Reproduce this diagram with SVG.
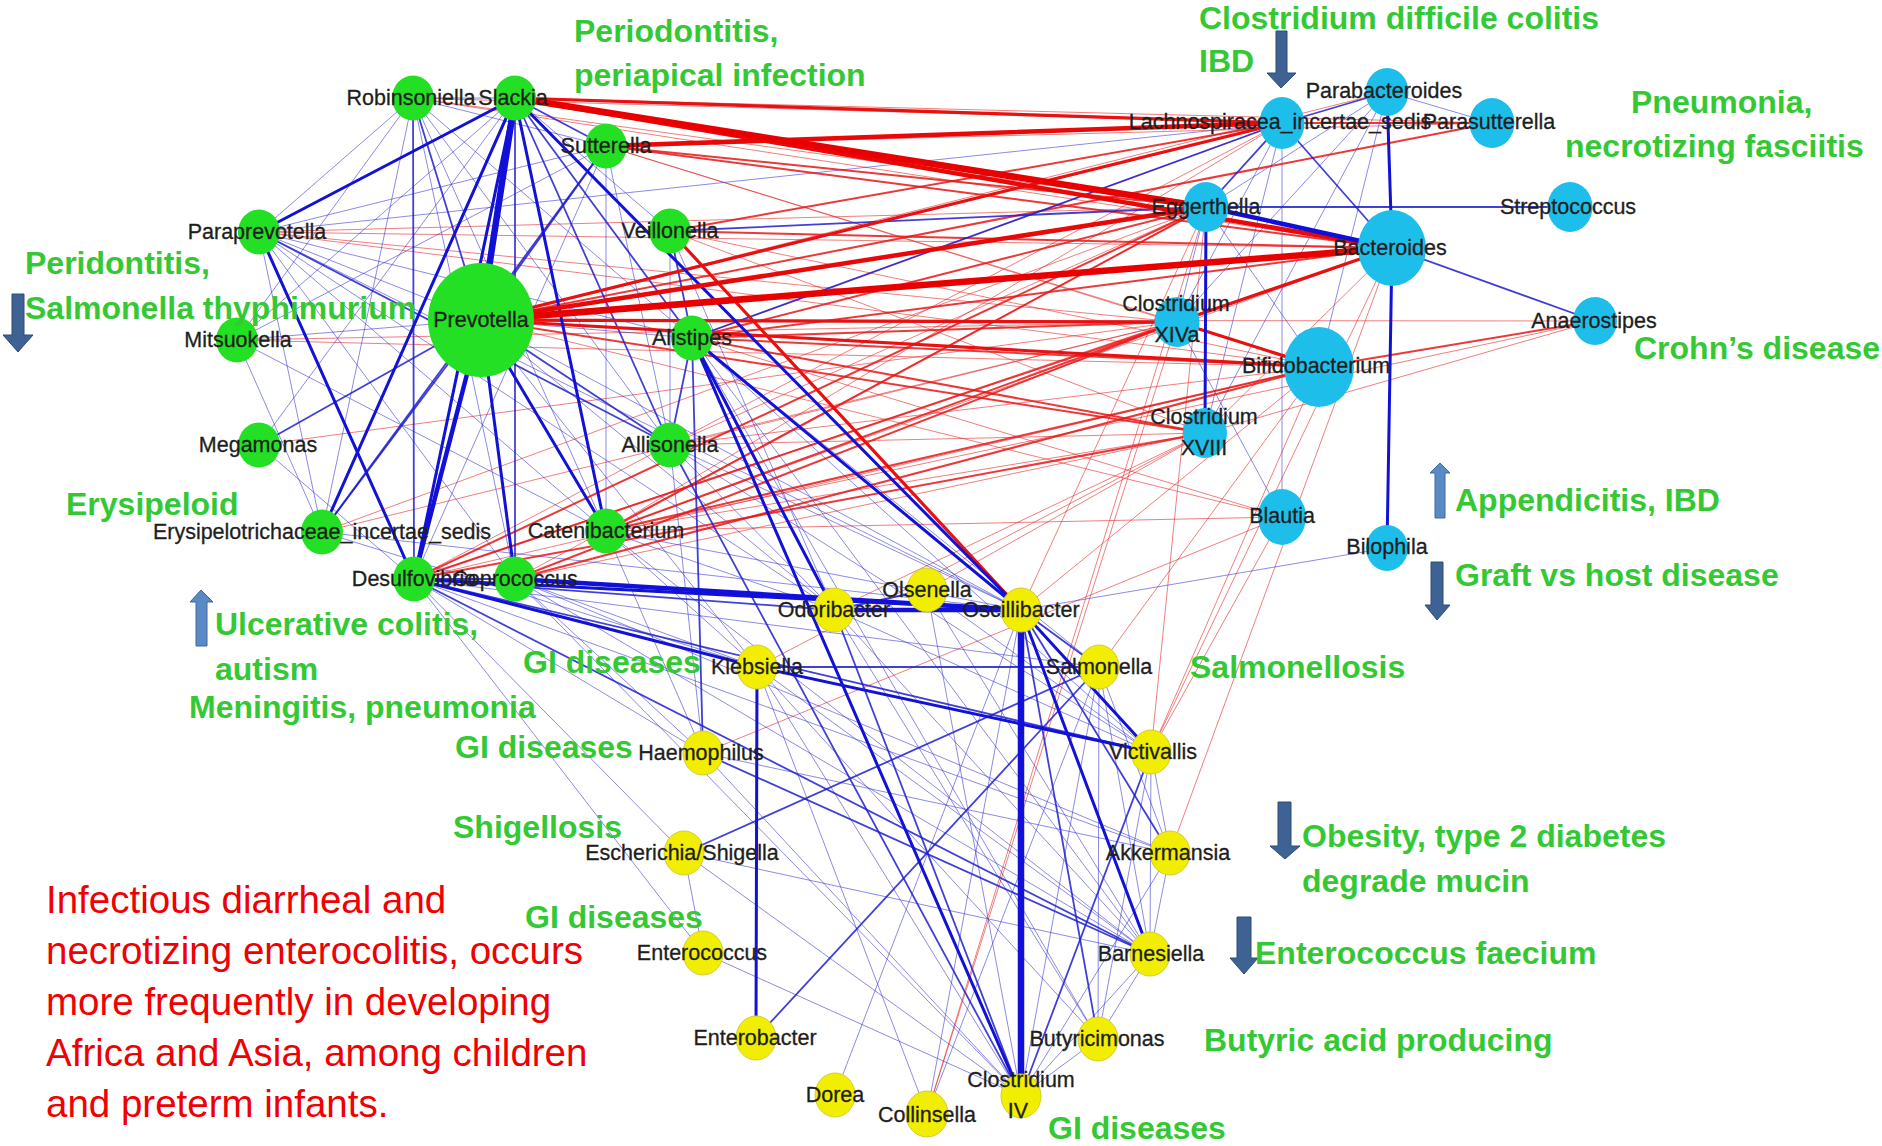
<svg xmlns="http://www.w3.org/2000/svg" width="1882" height="1146" viewBox="0 0 1882 1146">
<style>
.b1{stroke:#2c2cd0;stroke-width:1;stroke-opacity:.55}
.b2{stroke:#1e1ed0;stroke-width:1.8;stroke-opacity:.85}
.b3{stroke:#1212d6;stroke-width:3}
.b4{stroke:#1010d8;stroke-width:4.5}
.b5{stroke:#1010d8;stroke-width:6.5}
.r1{stroke:#e62a2a;stroke-width:1;stroke-opacity:.6}
.r2{stroke:#e81616;stroke-width:2;stroke-opacity:.85}
.r3{stroke:#e81010;stroke-width:3.2}
.r4{stroke:#e80808;stroke-width:4.5}
.r5{stroke:#e80000;stroke-width:6.5}
.g{fill:#24e024}
.c{fill:#1ebeea}
.y{fill:#f2ee00;stroke:#d2cc30;stroke-width:1}
.n{font-family:"Liberation Sans",Arial,sans-serif;font-size:21.5px;fill:#1e1e1e;stroke:#1e1e1e;stroke-width:.3;text-anchor:middle}
.d{font-family:"Liberation Sans",Arial,sans-serif;font-size:32px;font-weight:bold;fill:#34c934}
.t{font-family:"Liberation Sans",Arial,sans-serif;font-size:38.5px;fill:#f00000}
.ad{fill:#3d6293;stroke:#2e4c74;stroke-width:1}
.au{fill:#5a8ac6;stroke:#41699f;stroke-width:1}
</style>
<rect width="1882" height="1146" fill="#ffffff"/>
<g id="connectors" stroke-linecap="round">
<g class="r1">
<line x1="413" y1="98" x2="1282" y2="123"/>
<line x1="413" y1="98" x2="1206" y2="207"/>
<line x1="259" y1="232" x2="1206" y2="207"/>
<line x1="259" y1="232" x2="1392" y2="248"/>
<line x1="259" y1="232" x2="1177" y2="322"/>
<line x1="259" y1="232" x2="1319" y2="367"/>
<line x1="237" y1="340" x2="1319" y2="367"/>
<line x1="237" y1="340" x2="1177" y2="322"/>
<line x1="606" y1="146" x2="1492" y2="123"/>
<line x1="481" y1="320" x2="1595" y2="321"/>
<line x1="481" y1="320" x2="1282" y2="517"/>
<line x1="692" y1="338" x2="1282" y2="123"/>
<line x1="670" y1="445" x2="1177" y2="322"/>
<line x1="670" y1="445" x2="1319" y2="367"/>
<line x1="670" y1="445" x2="1206" y2="207"/>
<line x1="670" y1="445" x2="1205" y2="433"/>
<line x1="606" y1="531" x2="1205" y2="433"/>
<line x1="606" y1="531" x2="1392" y2="248"/>
<line x1="606" y1="531" x2="1282" y2="123"/>
<line x1="414" y1="579" x2="1319" y2="367"/>
<line x1="414" y1="579" x2="1392" y2="248"/>
<line x1="414" y1="579" x2="1282" y2="123"/>
<line x1="515" y1="579" x2="1206" y2="207"/>
<line x1="515" y1="579" x2="1205" y2="433"/>
<line x1="322" y1="532" x2="1177" y2="322"/>
<line x1="322" y1="532" x2="1206" y2="207"/>
<line x1="259" y1="445" x2="1177" y2="322"/>
<line x1="1595" y1="321" x2="606" y2="531"/>
<line x1="1595" y1="321" x2="1205" y2="433"/>
<line x1="1177" y1="322" x2="927" y2="1114"/>
<line x1="1319" y1="367" x2="1151" y2="752"/>
<line x1="1392" y1="248" x2="1170" y2="853"/>
<line x1="1319" y1="367" x2="1099" y2="667"/>
<line x1="1319" y1="367" x2="1021" y2="610"/>
<line x1="1205" y1="433" x2="927" y2="590"/>
<line x1="1206" y1="207" x2="1151" y2="752"/>
<line x1="1392" y1="248" x2="1151" y2="752"/>
<line x1="1282" y1="517" x2="1151" y2="752"/>
<line x1="1205" y1="433" x2="757" y2="667"/>
<line x1="703" y1="753" x2="1282" y2="517"/>
<line x1="1387" y1="92" x2="481" y2="320"/>
<line x1="1206" y1="207" x2="1021" y2="610"/>
<line x1="1392" y1="248" x2="1205" y2="433"/>
<line x1="515" y1="98" x2="1492" y2="123"/>
<line x1="670" y1="231" x2="1205" y2="433"/>
<line x1="670" y1="231" x2="1319" y2="367"/>
<line x1="606" y1="146" x2="1177" y2="322"/>
<line x1="606" y1="146" x2="1319" y2="367"/>
<line x1="413" y1="98" x2="1392" y2="248"/>
<line x1="692" y1="338" x2="1282" y2="517"/>
<line x1="606" y1="531" x2="1282" y2="517"/>
<line x1="834" y1="610" x2="1205" y2="433"/>
<line x1="927" y1="1114" x2="1206" y2="207"/>
</g>
<g class="b1">
<line x1="515" y1="98" x2="413" y2="98"/>
<line x1="515" y1="98" x2="237" y2="340"/>
<line x1="515" y1="98" x2="259" y2="445"/>
<line x1="515" y1="98" x2="670" y2="231"/>
<line x1="413" y1="98" x2="515" y2="579"/>
<line x1="413" y1="98" x2="606" y2="531"/>
<line x1="413" y1="98" x2="670" y2="445"/>
<line x1="413" y1="98" x2="259" y2="232"/>
<line x1="413" y1="98" x2="237" y2="340"/>
<line x1="413" y1="98" x2="322" y2="532"/>
<line x1="413" y1="98" x2="692" y2="338"/>
<line x1="413" y1="98" x2="606" y2="146"/>
<line x1="259" y1="232" x2="481" y2="320"/>
<line x1="259" y1="232" x2="606" y2="531"/>
<line x1="259" y1="232" x2="692" y2="338"/>
<line x1="259" y1="232" x2="606" y2="146"/>
<line x1="259" y1="232" x2="515" y2="579"/>
<line x1="259" y1="232" x2="322" y2="532"/>
<line x1="259" y1="232" x2="1021" y2="610"/>
<line x1="259" y1="232" x2="834" y2="610"/>
<line x1="481" y1="320" x2="237" y2="340"/>
<line x1="481" y1="320" x2="692" y2="338"/>
<line x1="481" y1="320" x2="834" y2="610"/>
<line x1="481" y1="320" x2="757" y2="667"/>
<line x1="481" y1="320" x2="1021" y2="610"/>
<line x1="606" y1="146" x2="414" y2="579"/>
<line x1="606" y1="146" x2="606" y2="531"/>
<line x1="606" y1="146" x2="670" y2="445"/>
<line x1="606" y1="146" x2="237" y2="340"/>
<line x1="670" y1="231" x2="670" y2="445"/>
<line x1="670" y1="231" x2="834" y2="610"/>
<line x1="692" y1="338" x2="1150" y2="954"/>
<line x1="692" y1="338" x2="1151" y2="752"/>
<line x1="692" y1="338" x2="1098" y2="1039"/>
<line x1="692" y1="338" x2="1099" y2="667"/>
<line x1="670" y1="445" x2="703" y2="753"/>
<line x1="670" y1="445" x2="834" y2="610"/>
<line x1="670" y1="445" x2="1021" y2="610"/>
<line x1="670" y1="445" x2="1151" y2="752"/>
<line x1="414" y1="579" x2="703" y2="753"/>
<line x1="414" y1="579" x2="684" y2="853"/>
<line x1="414" y1="579" x2="1170" y2="853"/>
<line x1="414" y1="579" x2="1099" y2="667"/>
<line x1="414" y1="579" x2="703" y2="953"/>
<line x1="515" y1="579" x2="1150" y2="954"/>
<line x1="515" y1="579" x2="1170" y2="853"/>
<line x1="515" y1="579" x2="757" y2="667"/>
<line x1="515" y1="579" x2="703" y2="753"/>
<line x1="515" y1="579" x2="1021" y2="1096"/>
<line x1="606" y1="531" x2="834" y2="610"/>
<line x1="606" y1="531" x2="1021" y2="610"/>
<line x1="606" y1="531" x2="757" y2="667"/>
<line x1="606" y1="531" x2="703" y2="753"/>
<line x1="606" y1="531" x2="1150" y2="954"/>
<line x1="322" y1="532" x2="757" y2="667"/>
<line x1="322" y1="532" x2="1021" y2="610"/>
<line x1="259" y1="445" x2="414" y2="579"/>
<line x1="237" y1="340" x2="606" y2="531"/>
<line x1="237" y1="340" x2="322" y2="532"/>
<line x1="1387" y1="92" x2="1206" y2="207"/>
<line x1="1387" y1="92" x2="1177" y2="322"/>
<line x1="1282" y1="123" x2="1177" y2="322"/>
<line x1="1282" y1="123" x2="1282" y2="517"/>
<line x1="1282" y1="123" x2="1205" y2="433"/>
<line x1="1206" y1="207" x2="1177" y2="322"/>
<line x1="1387" y1="92" x2="1319" y2="367"/>
<line x1="1206" y1="207" x2="1319" y2="367"/>
<line x1="1387" y1="92" x2="1492" y2="123"/>
<line x1="1282" y1="123" x2="259" y2="232"/>
<line x1="1387" y1="548" x2="1021" y2="610"/>
<line x1="1387" y1="92" x2="1205" y2="433"/>
<line x1="1177" y1="322" x2="1282" y2="517"/>
<line x1="703" y1="753" x2="1021" y2="1096"/>
<line x1="834" y1="610" x2="1098" y2="1039"/>
<line x1="834" y1="610" x2="1150" y2="954"/>
<line x1="834" y1="610" x2="1151" y2="752"/>
<line x1="757" y1="667" x2="1021" y2="1096"/>
<line x1="757" y1="667" x2="1098" y2="1039"/>
<line x1="1151" y1="752" x2="1150" y2="954"/>
<line x1="1151" y1="752" x2="1098" y2="1039"/>
<line x1="1151" y1="752" x2="1170" y2="853"/>
<line x1="1170" y1="853" x2="1150" y2="954"/>
<line x1="1150" y1="954" x2="1021" y2="1096"/>
<line x1="1150" y1="954" x2="1098" y2="1039"/>
<line x1="1098" y1="1039" x2="1021" y2="1096"/>
<line x1="1170" y1="853" x2="1021" y2="1096"/>
<line x1="1099" y1="667" x2="1021" y2="1096"/>
<line x1="1099" y1="667" x2="1150" y2="954"/>
<line x1="1099" y1="667" x2="1170" y2="853"/>
<line x1="1099" y1="667" x2="1098" y2="1039"/>
<line x1="835" y1="1095" x2="1021" y2="610"/>
<line x1="927" y1="1114" x2="757" y2="667"/>
<line x1="703" y1="953" x2="684" y2="853"/>
<line x1="684" y1="853" x2="1021" y2="1096"/>
<line x1="703" y1="953" x2="1021" y2="1096"/>
<line x1="684" y1="853" x2="1150" y2="954"/>
<line x1="927" y1="590" x2="1021" y2="1096"/>
<line x1="927" y1="590" x2="1150" y2="954"/>
<line x1="927" y1="590" x2="1151" y2="752"/>
<line x1="757" y1="667" x2="1150" y2="954"/>
<line x1="703" y1="753" x2="1170" y2="853"/>
<line x1="927" y1="1114" x2="1021" y2="610"/>
<line x1="927" y1="1114" x2="1099" y2="667"/>
</g>
<g class="r2">
<line x1="481" y1="320" x2="1205" y2="433"/>
<line x1="481" y1="320" x2="1492" y2="123"/>
<line x1="606" y1="146" x2="1206" y2="207"/>
<line x1="606" y1="146" x2="1392" y2="248"/>
<line x1="670" y1="231" x2="1282" y2="123"/>
<line x1="670" y1="231" x2="1392" y2="248"/>
<line x1="692" y1="338" x2="1206" y2="207"/>
<line x1="692" y1="338" x2="1392" y2="248"/>
<line x1="692" y1="338" x2="1177" y2="322"/>
<line x1="692" y1="338" x2="1319" y2="367"/>
<line x1="692" y1="338" x2="1205" y2="433"/>
<line x1="606" y1="531" x2="1206" y2="207"/>
<line x1="606" y1="531" x2="1177" y2="322"/>
<line x1="606" y1="531" x2="1319" y2="367"/>
<line x1="414" y1="579" x2="1206" y2="207"/>
<line x1="414" y1="579" x2="1177" y2="322"/>
<line x1="414" y1="579" x2="1205" y2="433"/>
<line x1="515" y1="579" x2="1177" y2="322"/>
<line x1="515" y1="579" x2="1319" y2="367"/>
<line x1="1282" y1="123" x2="1492" y2="123"/>
<line x1="1595" y1="321" x2="1319" y2="367"/>
</g>
<g class="b2">
<line x1="515" y1="98" x2="515" y2="579"/>
<line x1="515" y1="98" x2="670" y2="445"/>
<line x1="515" y1="98" x2="692" y2="338"/>
<line x1="515" y1="98" x2="606" y2="146"/>
<line x1="413" y1="98" x2="414" y2="579"/>
<line x1="413" y1="98" x2="481" y2="320"/>
<line x1="259" y1="232" x2="670" y2="445"/>
<line x1="481" y1="320" x2="322" y2="532"/>
<line x1="481" y1="320" x2="259" y2="445"/>
<line x1="481" y1="320" x2="670" y2="445"/>
<line x1="481" y1="320" x2="606" y2="146"/>
<line x1="606" y1="146" x2="322" y2="532"/>
<line x1="670" y1="231" x2="692" y2="338"/>
<line x1="692" y1="338" x2="703" y2="753"/>
<line x1="692" y1="338" x2="670" y2="445"/>
<line x1="670" y1="445" x2="1021" y2="1096"/>
<line x1="414" y1="579" x2="515" y2="579"/>
<line x1="414" y1="579" x2="834" y2="610"/>
<line x1="414" y1="579" x2="1151" y2="752"/>
<line x1="414" y1="579" x2="1150" y2="954"/>
<line x1="1282" y1="123" x2="1392" y2="248"/>
<line x1="1282" y1="123" x2="1206" y2="207"/>
<line x1="1282" y1="123" x2="1387" y2="92"/>
<line x1="1282" y1="123" x2="692" y2="338"/>
<line x1="670" y1="231" x2="1206" y2="207"/>
<line x1="1206" y1="207" x2="1570" y2="207"/>
<line x1="1392" y1="248" x2="1595" y2="321"/>
<line x1="1021" y1="610" x2="1098" y2="1039"/>
<line x1="1021" y1="610" x2="1170" y2="853"/>
<line x1="1021" y1="610" x2="1099" y2="667"/>
<line x1="834" y1="610" x2="927" y2="590"/>
<line x1="757" y1="667" x2="1099" y2="667"/>
<line x1="703" y1="753" x2="1150" y2="954"/>
<line x1="684" y1="853" x2="1099" y2="667"/>
<line x1="756" y1="1038" x2="1099" y2="667"/>
<line x1="834" y1="610" x2="1021" y2="1096"/>
<line x1="1151" y1="752" x2="1021" y2="1096"/>
</g>
<g class="r3">
<line x1="515" y1="98" x2="1282" y2="123"/>
<line x1="481" y1="320" x2="1282" y2="123"/>
<line x1="481" y1="320" x2="1177" y2="322"/>
<line x1="481" y1="320" x2="1319" y2="367"/>
<line x1="670" y1="231" x2="1021" y2="610"/>
<line x1="1177" y1="322" x2="1392" y2="248"/>
<line x1="1177" y1="322" x2="1319" y2="367"/>
</g>
<g class="b3">
<line x1="515" y1="98" x2="259" y2="232"/>
<line x1="515" y1="98" x2="322" y2="532"/>
<line x1="515" y1="98" x2="414" y2="579"/>
<line x1="515" y1="98" x2="606" y2="531"/>
<line x1="515" y1="98" x2="1021" y2="610"/>
<line x1="259" y1="232" x2="414" y2="579"/>
<line x1="481" y1="320" x2="515" y2="579"/>
<line x1="481" y1="320" x2="606" y2="531"/>
<line x1="692" y1="338" x2="834" y2="610"/>
<line x1="692" y1="338" x2="1021" y2="1096"/>
<line x1="692" y1="338" x2="1021" y2="610"/>
<line x1="414" y1="579" x2="757" y2="667"/>
<line x1="757" y1="667" x2="1151" y2="752"/>
<line x1="414" y1="579" x2="1021" y2="610"/>
<line x1="1387" y1="92" x2="1392" y2="248"/>
<line x1="1392" y1="248" x2="1387" y2="548"/>
<line x1="1206" y1="207" x2="1205" y2="433"/>
<line x1="757" y1="667" x2="756" y2="1038"/>
<line x1="1021" y1="610" x2="1151" y2="752"/>
<line x1="1021" y1="610" x2="1150" y2="954"/>
</g>
<g class="r4">
<line x1="606" y1="146" x2="1282" y2="123"/>
<line x1="481" y1="320" x2="1206" y2="207"/>
<line x1="515" y1="98" x2="1392" y2="248"/>
</g>
<g class="r5">
<line x1="515" y1="98" x2="1206" y2="207"/>
<line x1="481" y1="320" x2="1392" y2="248"/>
</g>
<g class="b4">
<line x1="481" y1="320" x2="414" y2="579"/>
<line x1="515" y1="579" x2="1021" y2="610"/>
<line x1="1206" y1="207" x2="1392" y2="248"/>
<line x1="834" y1="610" x2="1021" y2="610"/>
</g>
<g class="b5">
<line x1="515" y1="98" x2="481" y2="320"/>
<line x1="1021" y1="610" x2="1021" y2="1096"/>
</g>
</g>
<g id="node-Robinsoniella"><ellipse class="g" cx="413" cy="98" rx="21" ry="22.5"/><text class="n" x="411" y="105">Robinsoniella</text></g>
<g id="node-Slackia"><ellipse class="g" cx="515" cy="98" rx="21" ry="22.5"/><text class="n" x="513" y="105">Slackia</text></g>
<g id="node-Sutterella"><ellipse class="g" cx="606" cy="146" rx="21" ry="22.5"/><text class="n" x="606" y="153">Sutterella</text></g>
<g id="node-Paraprevotella"><ellipse class="g" cx="259" cy="232" rx="21" ry="22.5"/><text class="n" x="257" y="239">Paraprevotella</text></g>
<g id="node-Veillonella"><ellipse class="g" cx="670" cy="231" rx="21" ry="22.5"/><text class="n" x="670" y="238">Veillonella</text></g>
<g id="node-Prevotella"><ellipse class="g" cx="481" cy="320" rx="53" ry="57"/><text class="n" x="481" y="327">Prevotella</text></g>
<g id="node-Mitsuokella"><ellipse class="g" cx="237" cy="340" rx="21" ry="22.5"/><text class="n" x="238" y="347">Mitsuokella</text></g>
<g id="node-Alistipes"><ellipse class="g" cx="692" cy="338" rx="21" ry="22.5"/><text class="n" x="692" y="345">Alistipes</text></g>
<g id="node-Megamonas"><ellipse class="g" cx="259" cy="445" rx="21" ry="22.5"/><text class="n" x="258" y="452">Megamonas</text></g>
<g id="node-Allisonella"><ellipse class="g" cx="670" cy="445" rx="21" ry="22.5"/><text class="n" x="670" y="452">Allisonella</text></g>
<g id="node-Erysipelotrichaceae"><ellipse class="g" cx="322" cy="532" rx="21" ry="22.5"/><text class="n" x="322" y="539">Erysipelotrichaceae_incertae_sedis</text></g>
<g id="node-Catenibacterium"><ellipse class="g" cx="606" cy="531" rx="21" ry="22.5"/><text class="n" x="606" y="538">Catenibacterium</text></g>
<g id="node-Desulfovibrio"><ellipse class="g" cx="414" cy="579" rx="21" ry="22.5"/><text class="n" x="414" y="586">Desulfovibrio</text></g>
<g id="node-Coprococcus"><ellipse class="g" cx="515" cy="579" rx="21" ry="22.5"/><text class="n" x="515" y="586">Coprococcus</text></g>
<g id="node-Parabacteroides"><ellipse class="c" cx="1387" cy="92" rx="21.5" ry="24"/><text class="n" x="1384" y="98">Parabacteroides</text></g>
<g id="node-Lachnospiracea"><ellipse class="c" cx="1282" cy="123" rx="22.5" ry="26"/><text class="n" x="1280" y="129">Lachnospiracea_incertae_sedis</text></g>
<g id="node-Parasutterella"><ellipse class="c" cx="1492" cy="123" rx="22.5" ry="25"/><text class="n" x="1489" y="129">Parasutterella</text></g>
<g id="node-Eggerthella"><ellipse class="c" cx="1206" cy="207" rx="22.5" ry="25"/><text class="n" x="1206" y="214">Eggerthella</text></g>
<g id="node-Streptococcus"><ellipse class="c" cx="1570" cy="207" rx="22.5" ry="25"/><text class="n" x="1568" y="214">Streptococcus</text></g>
<g id="node-Bacteroides"><ellipse class="c" cx="1392" cy="248" rx="34" ry="38"/><text class="n" x="1390" y="255">Bacteroides</text></g>
<g id="node-ClostridiumXIVa"><ellipse class="c" cx="1177" cy="322" rx="22.5" ry="25"/><text class="n" x="1176" y="311">Clostridium</text><text class="n" x="1177" y="342">XIVa</text></g>
<g id="node-Anaerostipes"><ellipse class="c" cx="1595" cy="321" rx="22" ry="24"/><text class="n" x="1594" y="328">Anaerostipes</text></g>
<g id="node-Bifidobacterium"><ellipse class="c" cx="1319" cy="367" rx="35" ry="40"/><text class="n" x="1316" y="373">Bifidobacterium</text></g>
<g id="node-ClostridiumXVIII"><ellipse class="c" cx="1205" cy="433" rx="22" ry="25"/><text class="n" x="1204" y="424">Clostridium</text><text class="n" x="1204" y="455">XVIII</text></g>
<g id="node-Blautia"><ellipse class="c" cx="1282" cy="517" rx="24" ry="28"/><text class="n" x="1282" y="523">Blautia</text></g>
<g id="node-Bilophila"><ellipse class="c" cx="1387" cy="548" rx="21" ry="23"/><text class="n" x="1387" y="554">Bilophila</text></g>
<g id="node-Odoribacter"><ellipse class="y" cx="834" cy="610" rx="20" ry="22"/><text class="n" x="834" y="617">Odoribacter</text></g>
<g id="node-Olsenella"><ellipse class="y" cx="927" cy="590" rx="20" ry="22"/><text class="n" x="927" y="597">Olsenella</text></g>
<g id="node-Oscillibacter"><ellipse class="y" cx="1021" cy="610" rx="20" ry="22"/><text class="n" x="1021" y="617">Oscillibacter</text></g>
<g id="node-Klebsiella"><ellipse class="y" cx="757" cy="667" rx="20" ry="22"/><text class="n" x="757" y="674">Klebsiella</text></g>
<g id="node-Salmonella"><ellipse class="y" cx="1099" cy="667" rx="20" ry="22"/><text class="n" x="1099" y="674">Salmonella</text></g>
<g id="node-Haemophilus"><ellipse class="y" cx="703" cy="753" rx="20" ry="22"/><text class="n" x="701" y="760">Haemophilus</text></g>
<g id="node-Victivallis"><ellipse class="y" cx="1151" cy="752" rx="20" ry="22"/><text class="n" x="1153" y="759">Victivallis</text></g>
<g id="node-Escherichia"><ellipse class="y" cx="684" cy="853" rx="20" ry="22"/><text class="n" x="682" y="860">Escherichia/Shigella</text></g>
<g id="node-Akkermansia"><ellipse class="y" cx="1170" cy="853" rx="20" ry="22"/><text class="n" x="1168" y="860">Akkermansia</text></g>
<g id="node-Enterococcus"><ellipse class="y" cx="703" cy="953" rx="20" ry="22"/><text class="n" x="702" y="960">Enterococcus</text></g>
<g id="node-Barnesiella"><ellipse class="y" cx="1150" cy="954" rx="20" ry="22"/><text class="n" x="1151" y="961">Barnesiella</text></g>
<g id="node-Enterobacter"><ellipse class="y" cx="756" cy="1038" rx="20" ry="22"/><text class="n" x="755" y="1045">Enterobacter</text></g>
<g id="node-Butyricimonas"><ellipse class="y" cx="1098" cy="1039" rx="20" ry="22"/><text class="n" x="1097" y="1046">Butyricimonas</text></g>
<g id="node-Dorea"><ellipse class="y" cx="835" cy="1095" rx="20" ry="22"/><text class="n" x="835" y="1102">Dorea</text></g>
<g id="node-Collinsella"><ellipse class="y" cx="927" cy="1114" rx="21" ry="23"/><text class="n" x="927" y="1122">Collinsella</text></g>
<g id="node-ClostridiumIV"><ellipse class="y" cx="1021" cy="1096" rx="20" ry="22"/><text class="n" x="1021" y="1087">Clostridium</text><text class="n" x="1018" y="1118">IV</text></g>
<g id="arrows">
<polygon class="ad" points="12,294 24,294 24,335 33,335 18,352 3,335 12,335"/>
<polygon class="ad" points="1276,31 1287,31 1287,73 1296,73 1281,88 1267,73 1276,73"/>
<polygon class="ad" points="1431,562 1443,562 1443,605 1450,605 1437,620 1425,605 1431,605"/>
<polygon class="ad" points="1278,802 1291,802 1291,846 1300,846 1285,859 1270,846 1278,846"/>
<polygon class="ad" points="1237,917 1251,917 1251,958 1258,958 1244,974 1230,958 1237,958"/>
<polygon class="au" points="1435,518 1445,518 1445,473 1450,473 1440,463 1430,473 1435,473"/>
<polygon class="au" points="196,646 207,646 207,602 213,602 201,590 190,602 196,602"/>
</g>
<g id="annotations">
<text class="d" x="574" y="42">Periodontitis,</text>
<text class="d" x="574" y="86">periapical infection</text>
<text class="d" x="1199" y="29">Clostridium difficile colitis</text>
<text class="d" x="1199" y="72">IBD</text>
<text class="d" x="1631" y="113">Pneumonia,</text>
<text class="d" x="1565" y="157">necrotizing fasciitis</text>
<text class="d" x="1634" y="359">Crohn’s disease</text>
<text class="d" x="1455" y="511">Appendicitis, IBD</text>
<text class="d" x="1455" y="586">Graft vs host disease</text>
<text class="d" x="1190" y="678">Salmonellosis</text>
<text class="d" x="1302" y="847">Obesity, type 2 diabetes</text>
<text class="d" x="1302" y="892">degrade mucin</text>
<text class="d" x="1255" y="964">Enterococcus faecium</text>
<text class="d" x="1204" y="1051">Butyric acid producing</text>
<text class="d" x="1048" y="1139">GI diseases</text>
<text class="d" x="25" y="274">Peridontitis,</text>
<text class="d" x="25" y="319">Salmonella thyphimurium</text>
<text class="d" x="66" y="515">Erysipeloid</text>
<text class="d" x="215" y="635">Ulcerative colitis,</text>
<text class="d" x="215" y="680">autism</text>
<text class="d" x="189" y="718">Meningitis, pneumonia</text>
<text class="d" x="523" y="673">GI diseases</text>
<text class="d" x="455" y="758">GI diseases</text>
<text class="d" x="453" y="838">Shigellosis</text>
<text class="d" x="525" y="928">GI diseases</text>
<text class="t" x="46" y="913">Infectious diarrheal and</text>
<text class="t" x="46" y="964">necrotizing enterocolitis, occurs</text>
<text class="t" x="46" y="1015">more frequently in developing</text>
<text class="t" x="46" y="1066">Africa and Asia, among children</text>
<text class="t" x="46" y="1117">and preterm infants.</text>
</g>
</svg>
